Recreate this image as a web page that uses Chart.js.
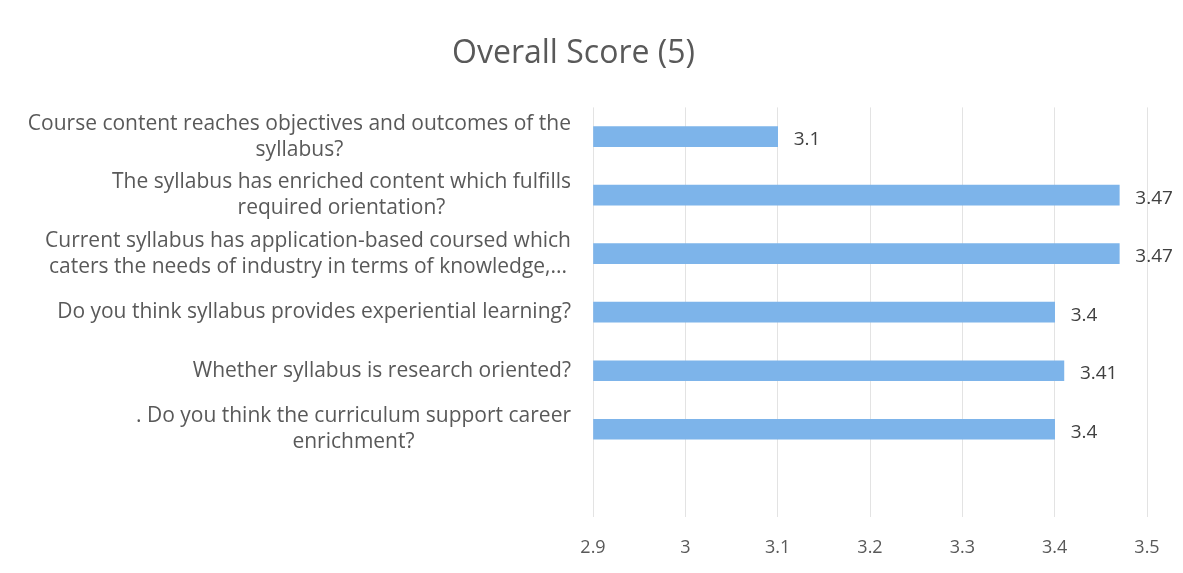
<!DOCTYPE html>
<html>
<head>
<meta charset="utf-8">
<script src="https://cdn.jsdelivr.net/npm/chart.js@4/dist/chart.umd.min.js"></script>
<style>
  html, body { margin: 0; padding: 0; background: #fff; }
  #wrap { width: 1183px; height: 573px; }
</style>
</head>
<body>
<div id="wrap"><canvas id="ScoreCanvas" width="1183" height="573"></canvas></div>
<script>
// questions, top to bottom (last row is the empty slot Excel left below the bars)
var questions = [
    ["Course content reaches objectives and outcomes of the", "syllabus?"],
    ["The syllabus has enriched content which fulfills", "required orientation?"],
    ["Current syllabus has application-based coursed which", "caters the needs of industry in terms of knowledge,..."],
    ["Do you think syllabus provides experiential learning?"],
    ["Whether syllabus is research oriented?"],
    [". Do you think the curriculum support career", "enrichment?"],
    [""]
];
var scores = [3.1, 3.47, 3.47, 3.4, 3.41, 3.4, null];
var xMin = 2.9;
var xMax = 3.5;
var xStep = 0.1;

var labelFont = '21px "Open Sans"';
var barColor = '#7db4ea';

// y labels: block right aligned next to the plot, lines centred inside the block
var questionLabels = {
    id: 'questionLabels',
    afterDraw: function (chart) {
        var ctx = chart.ctx;
        var yScale = chart.scales.y;
        var right = chart.chartArea.left - 22;
        ctx.save();
        ctx.font = labelFont;
        ctx.fillStyle = '#595959';
        ctx.textBaseline = 'middle';
        ctx.textAlign = 'center';
        questions.forEach(function (lines, i) {
            var widest = 0;
            lines.forEach(function (l) { widest = Math.max(widest, ctx.measureText(l).width); });
            var cx = right - widest / 2;
            var cy = yScale.getPixelForValue(i);
            var lh = 26;
            var top = cy - (lines.length - 1) * lh / 2;
            lines.forEach(function (l, j) {
                ctx.fillText(l, cx, top + j * lh);
            });
        });
        ctx.restore();
    }
};

// value labels at the end of each bar
var valueLabels = {
    id: 'valueLabels',
    afterDatasetsDraw: function (chart) {
        var ctx = chart.ctx;
        var meta = chart.getDatasetMeta(0);
        ctx.save();
        ctx.font = '19px "Open Sans"';
        ctx.fillStyle = '#404040';
        ctx.textBaseline = 'middle';
        ctx.textAlign = 'left';
        meta.data.forEach(function (bar, i) {
            if (scores[i] === null) return;
            ctx.fillText(String(scores[i]), bar.x + 16, bar.y + 3);
        });
        ctx.restore();
    }
};

var ScoreCtx = document.getElementById("ScoreCanvas").getContext("2d");

window.Score = new Chart(ScoreCtx, {
    type: 'bar',
    data: {
        labels: questions,
        datasets: [{
            data: scores,
            backgroundColor: barColor,
            borderWidth: 0,
            barThickness: 20,
            base: xMin
        }]
    },
    options: {
        indexAxis: 'y',
        responsive: false,
        animation: false,
        layout: {
            padding: { left: 0, right: 36, top: 0, bottom: 0 }
        },
        scales: {
            x: {
                min: xMin,
                max: xMax,
                ticks: {
                    stepSize: xStep,
                    padding: 20,
                    color: '#595959',
                    font: { family: 'Open Sans', size: 18 },
                    callback: function (v) { return String(Number(v.toFixed(1))); }
                },
                grid: {
                    color: '#e3e3e3',
                    drawTicks: false
                },
                border: { display: false },
                afterFit: function (scale) { scale.height = 56; }
            },
            y: {
                ticks: { display: false },
                grid: { display: false, drawTicks: false },
                border: { display: false },
                afterFit: function (scale) { scale.width = 593; }
            }
        },
        plugins: {
            legend: { display: false },
            tooltip: { enabled: false },
            title: {
                display: true,
                text: 'Overall Score (5)',
                color: '#595959',
                font: { family: 'Open Sans', size: 32, weight: 'normal' },
                padding: { top: 35, bottom: 34 }
            }
        }
    },
    plugins: [questionLabels, valueLabels]
});
</script>
</body>
</html>
